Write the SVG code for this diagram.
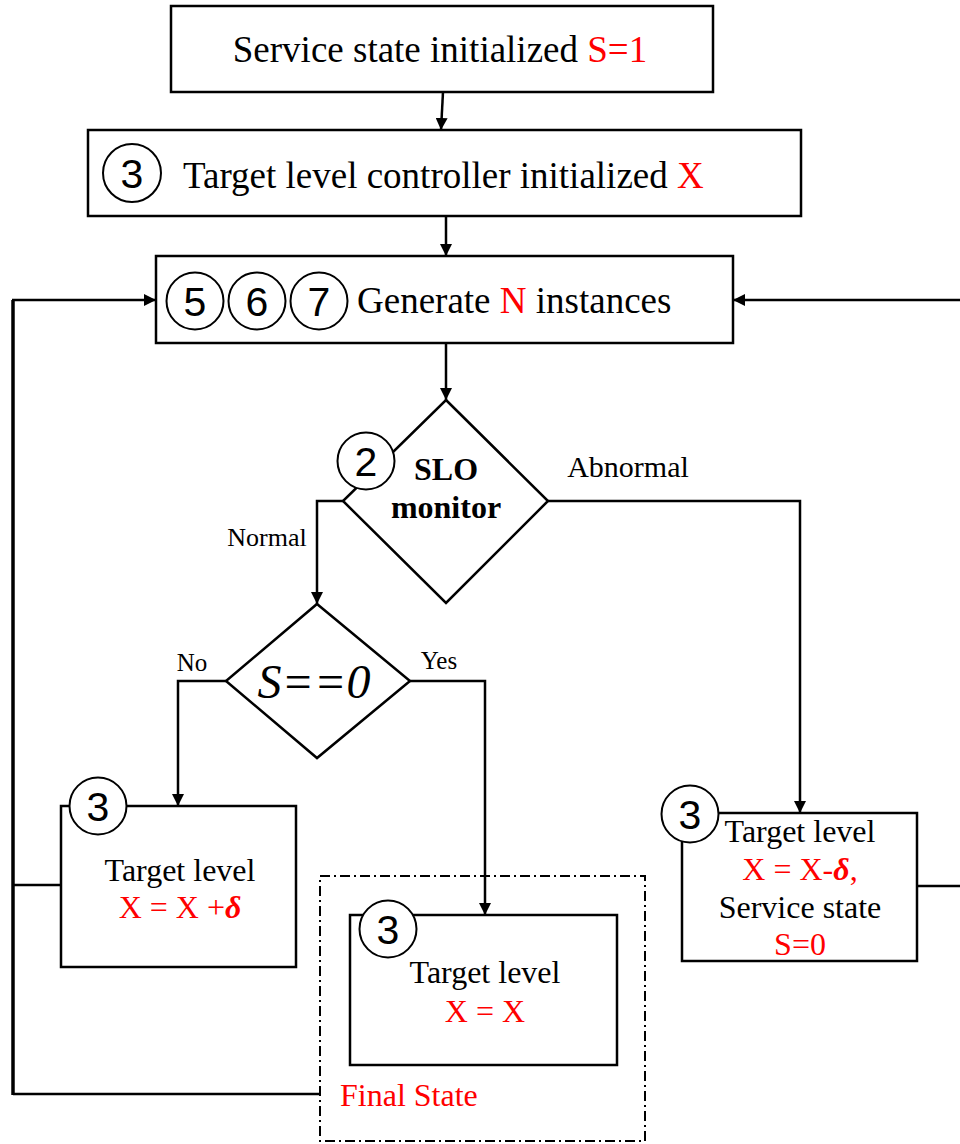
<svg xmlns="http://www.w3.org/2000/svg" width="960" height="1144" viewBox="0 0 960 1144">
  <defs>
    <marker id="arrow" viewBox="0 0 12 12" refX="12" refY="6" markerWidth="12" markerHeight="12" markerUnits="userSpaceOnUse" orient="auto">
      <path d="M0,0 L12,6 L0,12 Z" fill="#000"/>
    </marker>
  </defs>
  <style>
    .box { fill: #fff; stroke: #000; stroke-width: 2.5; }
    .dia { fill: #fff; stroke: #000; stroke-width: 2.5; }
    .badge { fill: #fff; stroke: #000; stroke-width: 2; }
    .num { font-family: "Liberation Sans", Arial, sans-serif; font-size: 41px; text-anchor: middle; fill: #000; }
    .t { font-family: "Liberation Serif", "Times New Roman", serif; fill: #000; }
    .red { fill: #ff0000; }
    .mid { text-anchor: middle; }
    .wire { fill: none; stroke: #000; stroke-width: 2.5; }
    .wire-thick { fill: none; stroke: #000; stroke-width: 3.5; }
    .frame { fill: none; stroke: #000; stroke-width: 2; stroke-dasharray: 10 4 2 4; }
  </style>

  <rect width="960" height="1144" fill="#fff"/>

  <!-- connectors -->
  <g id="connectors">
    <path class="wire" d="M443,92 L441,130" marker-end="url(#arrow)"/>
    <path class="wire" d="M446,216 L446,256" marker-end="url(#arrow)"/>
    <path class="wire" d="M446,343 L446,400" marker-end="url(#arrow)"/>
    <!-- Normal branch -->
    <path class="wire" d="M343,501 L317,501 L317,604" marker-end="url(#arrow)"/>
    <!-- Abnormal branch -->
    <path class="wire" d="M548,501 L800,501 L800,813" marker-end="url(#arrow)"/>
    <!-- No branch -->
    <path class="wire" d="M226,681 L178,681 L178,806" marker-end="url(#arrow)"/>
    <!-- Yes branch -->
    <path class="wire" d="M410,681 L485,681 L485,915" marker-end="url(#arrow)"/>
    <!-- left feedback loop -->
    <path class="wire" d="M61,885 L13,885"/>
    <path class="wire" d="M320,1094 L13,1094"/>
    <path class="wire-thick" d="M13,1095 L13,300"/>
    <path class="wire" d="M12,300 L156,300" marker-end="url(#arrow)"/>
    <!-- right feedback loop -->
    <path class="wire" d="M917,886 L960,886"/>
    <path class="wire" d="M960,300 L733,300" marker-end="url(#arrow)"/>
    <!-- branch labels -->
    <text class="t mid" x="628" y="477" font-size="30">Abnormal</text>
    <text class="t mid" x="267" y="546" font-size="26">Normal</text>
    <text class="t mid" x="192" y="671" font-size="25">No</text>
    <text class="t mid" x="439" y="669" font-size="25">Yes</text>
  </g>

  <g id="node-service-init">
    <rect class="box" x="171" y="6" width="542" height="86"/>
    <text class="t mid" x="440" y="62" font-size="37">Service state initialized <tspan class="red">S=1</tspan></text>
  </g>

  <g id="node-controller-init">
    <rect class="box" x="88" y="130" width="713" height="86"/>
    <circle class="badge" cx="132" cy="173" r="29"/>
    <text class="num" x="132" y="188">3</text>
    <text class="t" x="183" y="188" font-size="37">Target level controller initialized <tspan class="red">X</tspan></text>
  </g>

  <g id="node-generate">
    <rect class="box" x="156" y="256" width="577" height="87"/>
    <circle class="badge" cx="195" cy="301" r="28.5"/>
    <text class="num" x="195" y="316">5</text>
    <circle class="badge" cx="257" cy="301" r="28.5"/>
    <text class="num" x="257" y="316">6</text>
    <circle class="badge" cx="319" cy="301" r="28.5"/>
    <text class="num" x="319" y="316">7</text>
    <text class="t" x="357" y="313" font-size="37">Generate <tspan class="red">N</tspan> instances</text>
  </g>

  <g id="node-slo-monitor">
    <path class="dia" d="M446,400 L548,501 L446,603 L343,501 Z"/>
    <circle class="badge" cx="366" cy="461" r="28.5"/>
    <text class="num" x="366" y="476">2</text>
    <text class="t mid" x="446" y="480" font-size="32" font-weight="bold">SLO</text>
    <text class="t mid" x="446" y="518" font-size="32" font-weight="bold">monitor</text>
  </g>

  <g id="node-state-check">
    <path class="dia" d="M317,604 L410,681 L317,758 L226,681 Z"/>
    <text class="t mid" x="314" y="698" font-size="48" font-style="italic">S==0</text>
  </g>

  <g id="node-increase">
    <rect class="box" x="61" y="806" width="235" height="161"/>
    <circle class="badge" cx="98" cy="806" r="28.5"/>
    <text class="num" x="98" y="821">3</text>
    <text class="t mid" x="180" y="881" font-size="32">Target level</text>
    <text class="t mid red" x="180" y="918" font-size="32">X = X +<tspan font-weight="bold" font-style="italic">δ</tspan></text>
  </g>

  <g id="node-final">
    <rect class="frame" x="320" y="876" width="325" height="265"/>
    <rect class="box" x="350" y="915" width="267" height="150"/>
    <circle class="badge" cx="388" cy="929" r="28.5"/>
    <text class="num" x="388" y="944">3</text>
    <text class="t mid" x="485" y="983" font-size="32">Target level</text>
    <text class="t mid red" x="485" y="1022" font-size="32">X = X</text>
    <text class="t red" x="340" y="1106" font-size="32">Final State</text>
  </g>

  <g id="node-decrease">
    <rect class="box" x="682" y="813" width="235" height="148"/>
    <circle class="badge" cx="690" cy="814" r="28.5"/>
    <text class="num" x="690" y="829">3</text>
    <text class="t mid" x="800" y="842" font-size="32">Target level</text>
    <text class="t mid red" x="800" y="880" font-size="32">X = X-<tspan font-weight="bold" font-style="italic">δ</tspan>,</text>
    <text class="t mid" x="800" y="918" font-size="32">Service state</text>
    <text class="t mid red" x="800" y="955" font-size="32">S=0</text>
  </g>
</svg>
